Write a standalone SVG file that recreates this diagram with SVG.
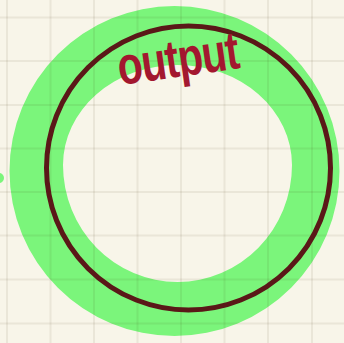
<svg xmlns="http://www.w3.org/2000/svg" width="344" height="343" viewBox="0 0 344 343">
  <style>
    .grid line { stroke: #3a3000; stroke-opacity: 0.07; stroke-width: 2; }
    .ring { fill: #7bf57b; fill-rule: evenodd; }
    .circle { fill: none; stroke: #5a1818; stroke-width: 5; }
    .label { font-family: "Liberation Sans", "DejaVu Sans", sans-serif; font-weight: bold; fill: #a3172f; letter-spacing: -1px; }
  </style>
  <rect id="background" x="0" y="0" width="344" height="343" fill="#f8f5e9"/>
  <g id="ring">
    <path class="ring" d="M9.5,171 A165,165 0 1 0 339.5,171 A165,165 0 1 0 9.5,171 Z M63,165 A114.5,117 0 0 0 292,165 A114.5,100 0 0 0 63,165 Z"/>
    <circle class="ring" cx="-1" cy="178" r="5"/>
  </g>
  <g id="grid" class="grid">
    <line x1="7" y1="0" x2="7" y2="343"/>
    <line x1="50.5" y1="0" x2="50.5" y2="343"/>
    <line x1="94" y1="0" x2="94" y2="343"/>
    <line x1="137.5" y1="0" x2="137.5" y2="343"/>
    <line x1="181" y1="0" x2="181" y2="343"/>
    <line x1="224.5" y1="0" x2="224.5" y2="343"/>
    <line x1="268" y1="0" x2="268" y2="343"/>
    <line x1="312" y1="0" x2="312" y2="343"/>
    <line x1="0" y1="17.5" x2="344" y2="17.5"/>
    <line x1="0" y1="61" x2="344" y2="61"/>
    <line x1="0" y1="105" x2="344" y2="105"/>
    <line x1="0" y1="148.5" x2="344" y2="148.5"/>
    <line x1="0" y1="192" x2="344" y2="192"/>
    <line x1="0" y1="235.5" x2="344" y2="235.5"/>
    <line x1="0" y1="279.5" x2="344" y2="279.5"/>
    <line x1="0" y1="323.5" x2="344" y2="323.5"/>
  </g>
  <g id="output-circle">
    <circle class="circle" cx="188.5" cy="168" r="142"/>
  </g>
  <g id="output-label">
    <text class="label" font-size="41" transform="translate(120,85) rotate(-8) scale(1,1.3)">output</text>
  </g>
</svg>
